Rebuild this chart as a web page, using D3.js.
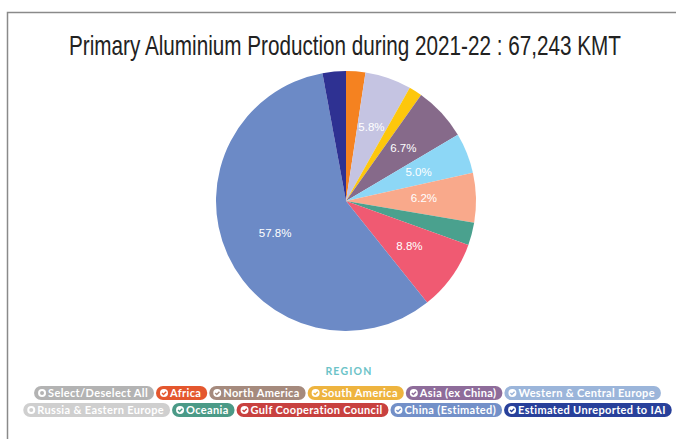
<!DOCTYPE html>
<html><head><meta charset="utf-8">
<script src="https://cdn.jsdelivr.net/npm/d3@7"></script>
<style>html,body{margin:0;padding:0;background:#fff;}svg{display:block;}</style>
</head><body>
<svg id="c" width="676" height="439"></svg>
<script>
const regions = ["Africa","North America","South America","Asia (ex China)","Western & Central Europe","Russia & Eastern Europe","Oceania","Gulf Cooperation Council","China (Estimated)","Estimated Unreported to IAI"];
const values = [1614,3872,1105,4497,3376,4155,1881,5908,38884,1951];
const sliceColors = ["#f58220","#c5c4e2","#fdc70c","#866a8a","#8dd7f6","#f9a98b","#4aa18e","#f05a72","#6c8ac6","#2e3192"];
const legendLabels = ["Select/Deselect All"].concat(regions);
const legendColors = ["#b3b3b3","#e4572e","#a58a7d","#eeb43f","#8e6c9a","#9bb5da","#cfcfcf","#4b9a87","#c8413f","#7390c8","#28409a"];
const legendChecked = [false,true,true,true,true,true,false,true,true,true,true];
const titleText = "Primary Aluminium Production during 2021-22 : 67,243 KMT";

const svg = d3.select("#c");
svg.append("path").attr("d","M7.5,439V12.5H676").attr("fill","none").attr("stroke","#8a8a8a").attr("stroke-width",1.5);

const tg = svg.append("g");
const title = tg.append("text").attr("x",0).attr("y",0).attr("text-anchor","middle")
  .attr("font-family","'Liberation Sans',Arial,sans-serif").attr("font-size",27)
  .attr("fill","#222").text(titleText);
const tw = title.node().getComputedTextLength();
tg.attr("transform",`translate(345,54.5) scale(${552/tw},1)`);

const total = d3.sum(values);
const cx = 346, cy = 201, R = 130;
const pie = d3.pie().sort(null).value(d=>d)(values);
const arc = d3.arc().innerRadius(0).outerRadius(R);
const lab = d3.arc().innerRadius(78).outerRadius(78);
const g = svg.append("g").attr("transform",`translate(${cx},${cy})`);
g.selectAll("path").data(pie).join("path").attr("d",arc).attr("fill",(d,i)=>sliceColors[i]);
g.selectAll("text").data(pie.filter(d=>d.value/total>=0.05)).join("text")
  .attr("transform",d=>`translate(${lab.centroid(d)})`).attr("text-anchor","middle").attr("dy","0.3em")
  .attr("font-family","'Liberation Sans',Arial,sans-serif").attr("font-size",11.5).attr("fill","#fff")
  .text(d=>(d.value/total*100).toFixed(1)+"%");

svg.append("text").attr("x",349).attr("y",375).attr("text-anchor","middle")
  .attr("font-family","Lato,sans-serif").attr("font-weight",700).attr("font-size",10.5).attr("letter-spacing",1.2)
  .attr("fill","#6cc3c8").text("REGION");

// legend pills
const rows = [[0,1,2,3,4,5],[6,7,8,9,10]];
const rowY = [386,403];
const ph = 14, gap = 2, padL = 14, padR = 6;
const lg = svg.append("g");
const fontSpec = {family:"Lato,sans-serif", weight:700, size:11};
const tmp = lg.append("text").attr("font-family",fontSpec.family).attr("font-weight",fontSpec.weight).attr("font-size",fontSpec.size).attr("letter-spacing",0.35);
const widths = legendLabels.map(t=>{tmp.text(t);return tmp.node().getComputedTextLength();});
tmp.remove();
rows.forEach((row,ri)=>{
  const ws = row.map(i=>widths[i]+padL+padR);
  const tot = d3.sum(ws)+gap*(row.length-1);
  let x = 347.5 - tot/2;
  row.forEach((i,k)=>{
    const w = ws[k], y = rowY[ri];
    const p = lg.append("g").attr("transform",`translate(${x},${y})`);
    p.append("rect").attr("width",w).attr("height",ph).attr("rx",7).attr("fill",legendColors[i]);
    p.append("circle").attr("cx",8).attr("cy",7).attr("r",4).attr("fill","#fff");
    if(legendChecked[i]){
      p.append("path").attr("d","M6,7.1L7.5,8.6L10.2,5.7").attr("fill","none").attr("stroke",legendColors[i]).attr("stroke-width",1.4);
    } else {
      p.append("circle").attr("cx",8).attr("cy",7).attr("r",2).attr("fill",legendColors[i]);
    }
    p.append("text").attr("x",padL).attr("y",11).attr("font-family",fontSpec.family).attr("font-weight",fontSpec.weight)
      .attr("font-size",fontSpec.size).attr("letter-spacing",0.35).attr("fill","#fff").text(legendLabels[i]);
    x += w + gap;
  });
});
</script>
</body></html>
